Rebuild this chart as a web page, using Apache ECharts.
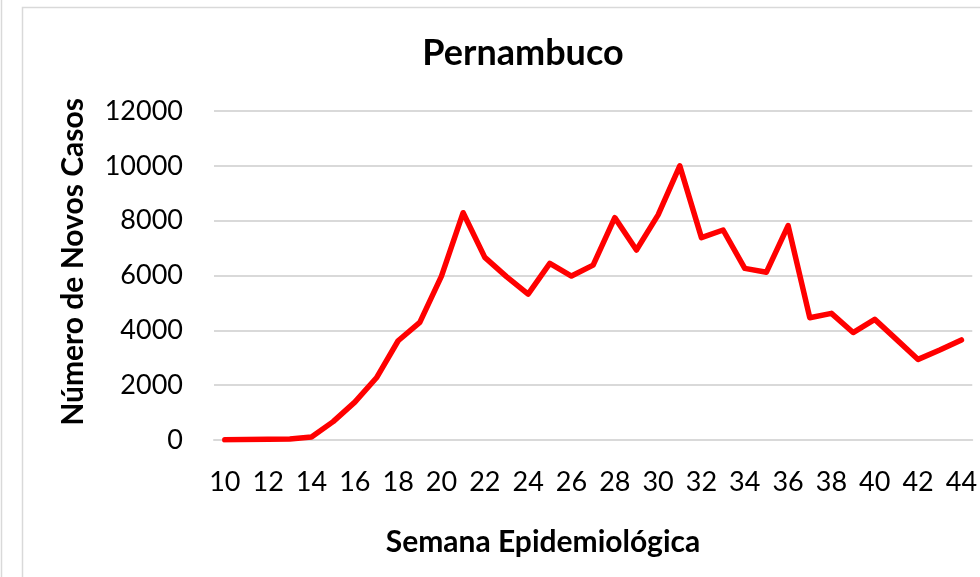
<!DOCTYPE html>
<html>
<head>
<meta charset="utf-8">
<script src="https://cdn.jsdelivr.net/npm/echarts@6/dist/echarts.min.js"></script>
<style>
  html, body { margin: 0; padding: 0; background: #fff; }
  #chart { width: 980px; height: 577px; }
</style>
</head>
<body>
<div id="chart"></div>
<script>
// Pernambuco - novos casos por semana epidemiológica

const weeks = ['10','11','12','13','14','15','16','17','18','19','20','21','22','23','24','25','26','27',
               '28','29','30','31','32','33','34','35','36','37','38','39','40','41','42','43','44'];
const newCases = [5, 15, 30, 40, 110, 670, 1380, 2270, 3620, 4290, 5980, 8290, 6660, 5960, 5320, 6440, 5980, 6380,
                  8110, 6930, 8210, 10000, 7380, 7660, 6260, 6120, 7820, 4460, 4620, 3920, 4400, 3670, 2940, 3280, 3650];

const chartTitle = 'Pernambuco';
const xTitle = 'Semana Epidemiológica';
const yTitle = 'Número de Novos Casos';

const fontFam = 'Lato, "Noto Sans", sans-serif';
const gridGray = '#d9d9d9';

const chart = echarts.init(document.getElementById('chart'));

const option = {
    backgroundColor: '#ffffff',
    animation: false,
    title: [
        {
            text: chartTitle,
            left: 518,
            top: 30,
            textAlign: 'center',
            textStyle: { fontFamily: fontFam, fontWeight: 'bold', fontSize: 36, color: '#000' }
        },
        {
            text: xTitle,
            left: 538,
            top: 522,
            textAlign: 'center',
            textStyle: { fontFamily: fontFam, fontWeight: 'bold', fontSize: 30, color: '#000' }
        }
    ],
    graphic: [
        {
            type: 'line',
            shape: { x1: 1.5, y1: 0, x2: 1.5, y2: 577 },
            style: { stroke: gridGray, lineWidth: 1.5 }
        },
        {
            type: 'rect',
            shape: { x: 22.5, y: 7.5, width: 1000, height: 600 },
            style: { fill: 'none', stroke: gridGray, lineWidth: 1.5 }
        },
        {
            // rotated y-axis title
            type: 'text',
            x: 73,
            y: 262,
            rotation: Math.PI / 2,
            style: {
                text: yTitle,
                fontFamily: fontFam,
                fontWeight: 'bold',
                fontSize: 30,
                fill: '#000',
                align: 'center',
                verticalAlign: 'middle'
            }
        }
    ],
    grid: { left: 214, right: 2, top: 111, bottom: 137 },
    xAxis: {
        type: 'category',
        data: weeks,
        boundaryGap: true,
        axisLine: { show: true, lineStyle: { color: gridGray, width: 2 } },
        axisTick: { show: false },
        axisLabel: {
            interval: 1,
            margin: 29,
            fontFamily: fontFam,
            fontSize: 27,
            color: '#000'
        }
    },
    yAxis: {
        type: 'value',
        min: 0,
        max: 12000,
        interval: 2000,
        axisLine: { show: false },
        axisTick: { show: false },
        splitLine: { lineStyle: { color: gridGray, width: 2 } },
        axisLabel: {
            margin: 31,
            fontFamily: fontFam,
            fontSize: 27,
            color: '#000',
            formatter: v => String(v)
        }
    },
    series: [{
        type: 'line',
        data: newCases,
        showSymbol: false,
        smooth: false,
        lineStyle: { color: '#ff0000', width: 5.5, join: 'round', cap: 'round' },
        itemStyle: { color: '#ff0000' }
    }]
};

chart.setOption(option);
</script>
</body>
</html>
